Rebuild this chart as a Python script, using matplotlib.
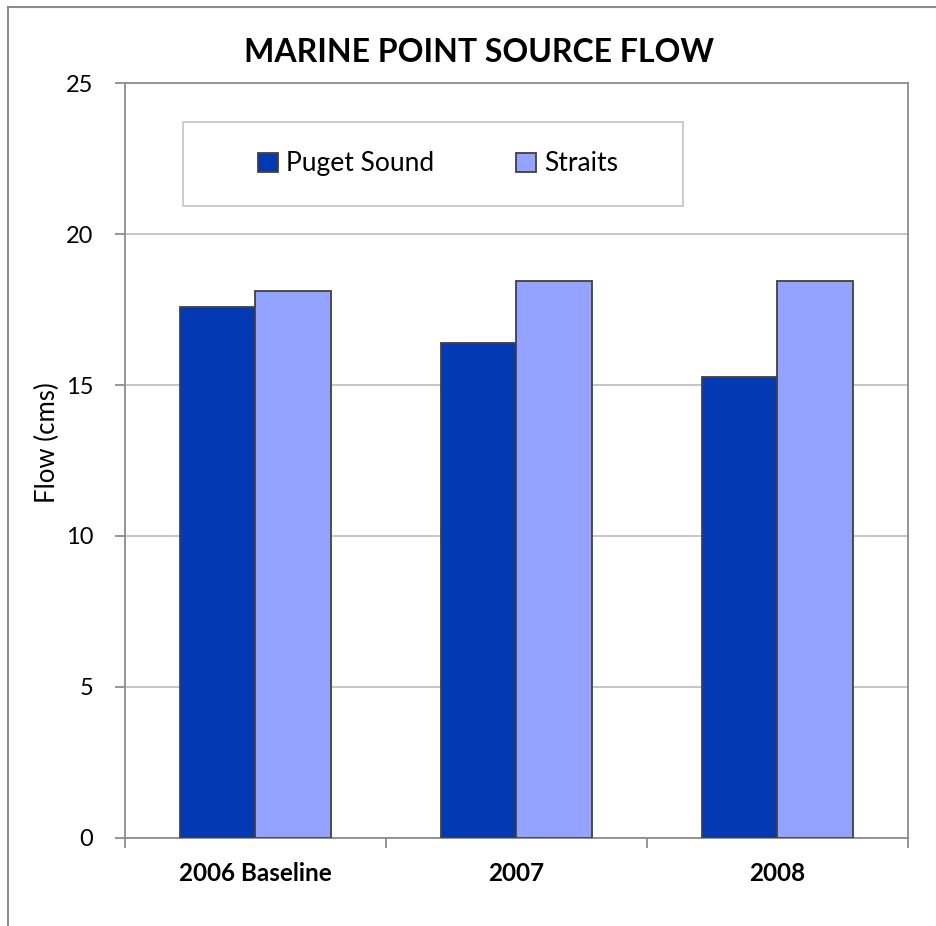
import matplotlib
matplotlib.use("Agg")
import matplotlib.pyplot as plt
from matplotlib.patches import Rectangle
from matplotlib.lines import Line2D
import numpy as np

plt.rcParams['font.family'] = ['Lato', 'DejaVu Sans']

categories = ["2006 Baseline", "2007", "2008"]
puget_sound = [17.59, 16.40, 15.27]
straits = [18.11, 18.45, 18.45]
y_ticks = [0, 5, 10, 15, 20, 25]

W, H = 937, 926
fig = plt.figure(figsize=(W / 100, H / 100), dpi=100)
fig.patch.set_facecolor("white")

# outer chart frame (runs off the right and bottom edges)
frame_col = "#8c8c8c"
fig.add_artist(Line2D([8 / W, 8 / W], [0, 1 - 7 / H], transform=fig.transFigure,
                      color=frame_col, lw=1.5))
fig.add_artist(Line2D([8 / W, 1], [1 - 7 / H, 1 - 7 / H], transform=fig.transFigure,
                      color=frame_col, lw=1.5))

ax = fig.add_axes([125 / W, 1 - 837.7 / H, (908 - 125) / W, (837.7 - 83.3) / H])

x = np.arange(len(categories))
bw = 0.29
ax.bar(x - bw / 2, puget_sound, bw, color="#0339B3", edgecolor="#404040",
       linewidth=1.3, label="Puget Sound", zorder=3)
ax.bar(x + bw / 2, straits, bw, color="#94A3FF", edgecolor="#404040",
       linewidth=1.3, label="Straits", zorder=3)

ax.set_xlim(-0.5, len(categories) - 0.5)
ax.set_ylim(0, 25)
ax.set_yticks(y_ticks)
ax.set_yticklabels([str(v) for v in y_ticks], fontsize=17)
ax.yaxis.grid(True, color="#c0c0c0", linewidth=1.3, zorder=0)
ax.set_axisbelow(True)

# category boundary ticks on the x axis
ax.set_xticks(np.arange(-0.5, len(categories)), minor=False)
ax.set_xticklabels([])
ax.tick_params(axis="x", direction="out", length=7, color="#8c8c8c", width=1.3)
ax.tick_params(axis="y", direction="out", length=7, color="#8c8c8c", width=1.3, pad=16)
for i, c in enumerate(categories):
    ax.text(i, -1.2, c, ha="center", va="center", fontsize=17.5,
            fontweight="bold", transform=ax.transData)

for s in ax.spines.values():
    s.set_color("#8c8c8c")
    s.set_linewidth(1.3)

fig.text(47 / W, 1 - 443 / H, "Flow (cms)", rotation=90, ha="center", va="center",
         fontsize=18.5)

fig.text(479 / W, 1 - 53 / H, "MARINE POINT SOURCE FLOW", ha="center", va="center",
         fontsize=23, fontweight="bold")

# legend box
fig.add_artist(Rectangle((183 / W, 1 - 206 / H), (683 - 183) / W, (206 - 122) / H,
                         transform=fig.transFigure, fill=False,
                         edgecolor="#c8c8c8", linewidth=1.3))
leg = ax.legend(loc="center", bbox_to_anchor=(438 / W, 1 - 164 / H),
                bbox_transform=fig.transFigure, ncol=2, frameon=False,
                fontsize=19, handlelength=0.75, handleheight=0.75,
                handletextpad=0.3, columnspacing=3.1)

fig.savefig("out.png", dpi=100, facecolor="white")
